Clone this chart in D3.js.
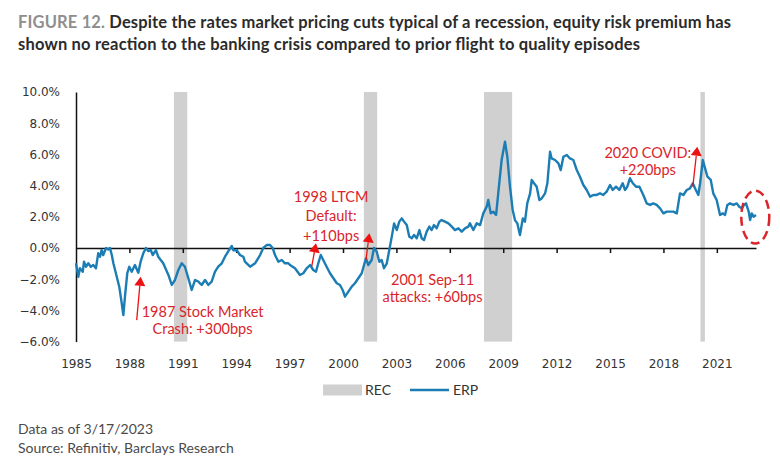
<!DOCTYPE html>
<html>
<head>
<meta charset="utf-8">
<script src="https://cdn.jsdelivr.net/npm/d3@7/dist/d3.min.js"></script>
<style>
  html, body { margin: 0; padding: 0; background: #ffffff; }
  svg { display: block; }
</style>
</head>
<body>
<svg id="chart" width="780" height="467"></svg>
<script>
// ---------------- DATA ----------------
const yTickValues = [-6, -4, -2, 0, 2, 4, 6, 8, 10];
const xTickYears = [1985, 1988, 1991, 1994, 1997, 2000, 2003, 2006, 2009, 2012, 2015, 2018, 2021];

const recessionStarts = [1990.5, 2001.17, 2007.92, 2020.08];
const recessionEnds   = [1991.25, 2001.92, 2009.5, 2020.33];

const erpYears = [
  1985.00,1985.13,1985.22,1985.38,1985.45,1985.56,1985.69,1985.83,1985.97,1986.12,
  1986.25,1986.35,1986.44,1986.53,1986.69,1986.81,1986.91,1987.01,1987.10,1987.29,
  1987.43,1987.57,1987.66,1987.75,1987.88,1987.99,1988.13,1988.31,1988.50,1988.63,
  1988.78,1988.93,1989.06,1989.20,1989.31,1989.49,1989.62,1989.90,1990.19,1990.38,
  1990.56,1990.75,1990.94,1991.12,1991.31,1991.50,1991.69,1991.87,1992.06,1992.25,
  1992.43,1992.62,1992.81,1992.99,1993.19,1993.37,1993.56,1993.75,1993.84,1994.03,
  1994.21,1994.40,1994.49,1994.78,1995.06,1995.34,1995.52,1995.71,1995.90,1996.05,
  1996.18,1996.37,1996.56,1996.74,1996.93,1997.02,1997.30,1997.58,1997.77,1997.96,
  1998.15,1998.33,1998.48,1998.61,1998.75,1998.89,1999.08,1999.27,1999.46,1999.65,
  1999.83,1999.98,2000.11,2000.30,2000.49,2000.67,2000.86,2001.05,2001.18,2001.29,
  2001.42,2001.61,2001.74,2001.89,2002.04,2002.17,2002.30,2002.46,2002.60,2002.74,
  2002.87,2003.02,2003.16,2003.30,2003.43,2003.58,2003.72,2003.86,2003.99,2004.14,
  2004.29,2004.42,2004.55,2004.70,2004.85,2004.98,2005.11,2005.26,2005.41,2005.54,
  2005.73,2005.92,2006.11,2006.29,2006.48,2006.67,2006.85,2007.04,2007.13,2007.32,
  2007.51,2007.70,2007.88,2008.07,2008.16,2008.30,2008.44,2008.60,2008.72,2008.91,
  2009.10,2009.23,2009.38,2009.53,2009.66,2009.79,2009.94,2010.10,2010.22,2010.35,
  2010.51,2010.60,2010.73,2010.88,2011.03,2011.16,2011.35,2011.48,2011.63,2011.72,
  2011.91,2012.10,2012.23,2012.38,2012.57,2012.75,2012.94,2013.13,2013.31,2013.50,
  2013.69,2013.88,2014.06,2014.25,2014.44,2014.62,2014.81,2015.00,2015.15,2015.34,
  2015.52,2015.71,2015.84,2015.97,2016.12,2016.28,2016.46,2016.65,2016.87,2017.06,
  2017.25,2017.43,2017.62,2017.81,2018.00,2018.19,2018.37,2018.56,2018.75,2018.93,
  2019.12,2019.31,2019.49,2019.65,2019.78,2019.96,2020.06,2020.21,2020.34,2020.47,
  2020.66,2020.80,2020.99,2021.18,2021.33,2021.46,2021.59,2021.74,2021.93,2022.12,
  2022.26,2022.40,2022.53,2022.64,2022.79,2022.87,2022.96,2023.06,2023.20
];
const erpValues = [
  -0.98,-1.84,-1.30,-1.52,-0.88,-1.20,-0.98,-1.20,-1.09,-1.30,
  -0.34,-0.56,-0.13,-0.45, 0.00,-0.10, 0.00,-0.45,-0.98,-1.84,
  -2.48,-3.55,-4.30,-3.12,-1.62,-1.20,-1.52,-1.09,-1.58,-0.88,
  -0.34, 0.00,-0.20,-0.13,-0.45,-0.13,-0.56,-0.98,-1.73,-2.37,
  -2.05,-1.41,-0.98,-1.20,-1.94,-2.69,-2.05,-2.15,-2.37,-2.05,
  -2.37,-2.15,-1.52,-1.20,-0.98,-0.56,-0.20, 0.13,-0.15,-0.13,
  -0.45,-0.56,-0.88,-1.20,-0.98,-0.45, 0.00, 0.19, 0.19, 0.00,
  -0.45,-0.88,-0.77,-0.98,-0.98,-1.09,-1.30,-1.73,-1.62,-1.30,
  -1.09,-1.41,-1.52,-0.98,-0.45,-0.77,-1.20,-1.62,-1.94,-2.26,
  -2.37,-2.69,-3.12,-2.80,-2.48,-2.26,-1.94,-1.62,-1.09,-0.66,
  -1.09,-0.77, 0.00,-0.23,-0.88,-0.77,-1.30,-0.98,-0.13, 0.73,
   1.58, 1.15, 1.69, 1.90, 1.69, 1.47, 0.73, 0.62, 0.84, 0.62,
   1.15, 0.62, 0.51, 1.05, 1.37, 1.15, 1.47, 1.26, 1.69, 1.79,
   1.69, 1.58, 1.37, 1.15, 1.26, 1.05, 1.26, 1.37, 1.58, 1.15,
   1.58, 1.47, 2.22, 2.65, 3.08, 2.22, 2.33, 2.12, 3.50, 5.64,
   6.81, 5.85, 3.93, 2.44, 1.79, 1.58, 0.83, 1.90, 1.69, 2.86,
   3.50, 4.36, 4.15, 3.93, 3.08, 3.18, 3.50, 4.15, 6.17, 5.74,
   5.64, 5.42, 5.00, 5.85, 5.96, 5.74, 5.64, 5.00, 4.57, 4.04,
   3.72, 3.29, 3.40, 3.40, 3.50, 3.40, 3.61, 4.04, 3.72, 3.93,
   3.72, 4.15, 3.72, 3.93, 4.47, 4.15, 3.93, 3.93, 3.40, 2.86,
   2.76, 2.86, 2.76, 2.54, 2.22, 2.33, 2.33, 2.33, 2.22, 3.50,
   3.40, 3.72, 3.82, 4.15, 3.82, 3.40, 4.15, 5.64, 5.10, 4.57,
   4.36, 3.50, 3.08, 2.12, 2.22, 2.12, 2.76, 2.86, 2.76, 2.86,
   2.65, 2.54, 2.76, 2.86, 2.33, 1.79, 2.22, 2.01, 2.12
];

// Annotations (text anchor and arrow in data units: year, value)
const noteLines = [
  ["1987 Stock Market", "Crash: +300bps"],
  ["1998 LTCM", "Default:", "+110bps"],
  ["2001 Sep-11", "attacks: +60bps"],
  ["2020 COVID:", "+220bps"]
];
const noteYears  = [1992.11, 1999.33, 2005.03, 2017.12];
const noteValues = [-4.42, 2.95, -2.37, 5.77];
const noteLineGap = [17.5, 19.3, 17, 17.5];
const arrowFromYears  = [1988.41, 1998.24, 2001.29, 2019.65];
const arrowFromValues = [-4.62, -1.20, -0.77, 3.93];
const arrowToYears    = [1988.63, 1998.48, 2001.48, 2019.90];
const arrowToValues   = [-1.84, 0.30, 0.94, 6.49];

const circleYear = 2023.16, circleValue = 1.98;

const titleLabel = "FIGURE 12.";
const titleLine1 = " Despite the rates market pricing cuts typical of a recession, equity risk premium has";
const titleLine2 = "shown no reaction to the banking crisis compared to prior flight to quality episodes";
const footnotes = ["Data as of 3/17/2023", "Source: Refinitiv, Barclays Research"];
const legendLabels = ["REC", "ERP"];

// ---------------- DRAW ----------------
const svg = d3.select("#chart");
const plot = { left: 76, right: 756, top: 92, bottom: 341.6 };

const x = d3.scaleLinear().domain([1985, 2023.2]).range([plot.left, plot.right]);
const y = d3.scaleLinear().domain([-6, 10]).range([plot.bottom, plot.top]);

const textFont = "Lato, 'Source Sans Pro', 'Open Sans', sans-serif";
const axisFont = "'DejaVu Sans', sans-serif";
const noteRed = "#d9252b";
const arrowRed = "#ee1111";
const lineBlue = "#1c7db5";
const recGrey = "#d0d0d0";

// Title
const t1 = svg.append("text").attr("x", 18).attr("y", 28)
  .attr("textLength", 713).attr("lengthAdjust", "spacing")
  .style("font-family", textFont).style("font-size", "16.5px").style("font-weight", 700);
t1.append("tspan").attr("fill", "#8e8e8e").text(titleLabel);
t1.append("tspan").attr("fill", "#2b2b2b").text(titleLine1);
svg.append("text").attr("x", 18).attr("y", 50)
  .attr("textLength", 622).attr("lengthAdjust", "spacing")
  .style("font-family", textFont).style("font-size", "16.5px").style("font-weight", 700)
  .attr("fill", "#2b2b2b").text(titleLine2);

// Recession bands
const recData = recessionStarts.map((s, i) => ({ s, e: recessionEnds[i] }));
svg.append("g").selectAll("rect").data(recData).join("rect")
  .attr("x", d => x(d.s)).attr("width", d => x(d.e) - x(d.s))
  .attr("y", y(10)).attr("height", y(-6) - y(10))
  .attr("fill", recGrey);

// Y axis
const yAxis = svg.append("g").attr("transform", `translate(${plot.left},0)`)
  .call(d3.axisLeft(y).tickValues(yTickValues).tickSize(0).tickPadding(16)
    .tickFormat(d => d3.format(".1f")(d) + "%"));
yAxis.select(".domain").attr("stroke", "#111").attr("stroke-width", 1.5);
yAxis.selectAll("text").style("font-family", axisFont).style("font-size", "12px").attr("fill", "#333");

// Zero line axis with ticks
const zeroAxis = svg.append("g").attr("transform", `translate(0,${y(0)})`)
  .call(d3.axisBottom(x).tickValues(xTickYears.slice(1)).tickSize(5).tickSizeOuter(0).tickFormat(""));
zeroAxis.select(".domain").attr("stroke", "#111").attr("stroke-width", 1.5);
zeroAxis.selectAll(".tick line").attr("stroke", "#111").attr("stroke-width", 1.5);

// X labels at bottom
const xLab = svg.append("g").attr("transform", `translate(0,${plot.bottom})`)
  .call(d3.axisBottom(x).tickValues(xTickYears).tickSize(0).tickPadding(18).tickFormat(d3.format("d")));
xLab.select(".domain").remove();
xLab.selectAll("text").style("font-family", axisFont).style("font-size", "12px").attr("fill", "#333");

// ERP line
const series = erpYears.map((t, i) => [t, erpValues[i]]);
svg.append("path").datum(series)
  .attr("fill", "none").attr("stroke", lineBlue).attr("stroke-width", 2.4)
  .attr("stroke-linejoin", "round")
  .attr("d", d3.line().x(d => x(d[0])).y(d => y(d[1])));

// Annotations
noteLines.forEach((lines, i) => {
  const tx = svg.append("text")
    .attr("x", x(noteYears[i])).attr("y", y(noteValues[i]))
    .attr("text-anchor", "middle")
    .style("font-family", textFont).style("font-size", "14.5px")
    .attr("fill", noteRed);
  lines.forEach((ln, j) => {
    tx.append("tspan").attr("x", x(noteYears[i])).attr("dy", j === 0 ? 0 : noteLineGap[i]).text(ln);
  });
  const x0 = x(arrowFromYears[i]), y0 = y(arrowFromValues[i]);
  const x1 = x(arrowToYears[i]), y1 = y(arrowToValues[i]);
  const dx = x1 - x0, dy = y1 - y0, L = Math.hypot(dx, dy);
  const ux = dx / L, uy = dy / L, hl = 9, hw = 5.5;
  const bx = x1 - ux * hl, by = y1 - uy * hl;
  svg.append("line").attr("x1", x0).attr("y1", y0).attr("x2", bx).attr("y2", by)
    .attr("stroke", arrowRed).attr("stroke-width", 1.3);
  svg.append("path")
    .attr("d", `M${x1},${y1}L${bx - uy * hw},${by + ux * hw}L${bx + uy * hw},${by - ux * hw}Z`)
    .attr("fill", arrowRed);
});

// Dashed circle at the end
svg.append("ellipse")
  .attr("cx", x(circleYear)).attr("cy", y(circleValue))
  .attr("rx", 14).attr("ry", 26.5)
  .attr("fill", "none").attr("stroke", noteRed).attr("stroke-width", 2.5)
  .attr("stroke-dasharray", "9,5");

// Legend
const lg = svg.append("g").attr("transform", "translate(323,390)");
lg.append("rect").attr("x", 0).attr("y", -5.5).attr("width", 39).attr("height", 11).attr("fill", recGrey);
lg.append("text").attr("x", 42).attr("y", 5).text(legendLabels[0])
  .style("font-family", textFont).style("font-size", "14px").attr("fill", "#333");
lg.append("line").attr("x1", 87).attr("x2", 126).attr("y1", 0).attr("y2", 0)
  .attr("stroke", lineBlue).attr("stroke-width", 2.5);
lg.append("text").attr("x", 130).attr("y", 5).text(legendLabels[1])
  .style("font-family", textFont).style("font-size", "14px").attr("fill", "#333");

// Footnotes
footnotes.forEach((f, i) => {
  svg.append("text").attr("x", 18).attr("y", 434 + i * 19).text(f)
    .style("font-family", textFont).style("font-size", "14px").attr("fill", "#4a4a4a");
});
</script>
</body>
</html>
